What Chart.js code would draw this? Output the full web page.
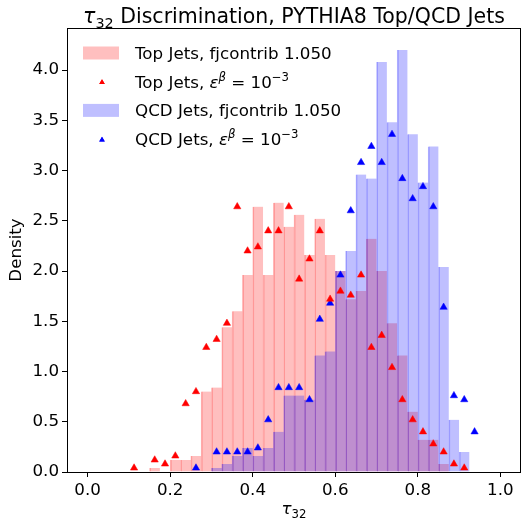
<!DOCTYPE html>
<html>
<head>
<meta charset="utf-8">
<script src="https://cdn.jsdelivr.net/npm/chart.js@4.4.1/dist/chart.umd.min.js"></script>
<style>
  body { margin: 0; background: #fff; }
  canvas { display: block; }
</style>
</head>
<body>
<canvas id="tauChart" width="527" height="518"></canvas>
<script>
// 40 bins of width 0.025 on [0, 1]
let binCenters = [0.0125, 0.0375, 0.0625, 0.0875, 0.1125, 0.1375, 0.1625, 0.1875, 0.2125, 0.2375,
    0.2625, 0.2875, 0.3125, 0.3375, 0.3625, 0.3875, 0.4125, 0.4375, 0.4625, 0.4875,
    0.5125, 0.5375, 0.5625, 0.5875, 0.6125, 0.6375, 0.6625, 0.6875, 0.7125, 0.7375,
    0.7625, 0.7875, 0.8125, 0.8375, 0.8625, 0.8875, 0.9125, 0.9375, 0.9625, 0.9875];

// fjcontrib histograms (density)
let topHist = [0, 0, 0, 0, 0, 0, 0.04, 0, 0.12, 0.12,
    0.16, 0.80, 0.84, 1.44, 1.60, 1.96, 2.64, 1.96, 2.68, 2.44,
    2.56, 2.16, 2.52, 2.16, 2.00, 1.72, 1.80, 2.32, 2.00, 1.48,
    1.16, 0.60, 0.32, 0.32, 0.08, 0, 0, 0, 0, 0];
let qcdHist = [0, 0, 0, 0, 0, 0, 0, 0, 0, 0,
    0, 0, 0.04, 0.08, 0.16, 0.24, 0.16, 0.24, 0.40, 0.76,
    0.76, 0.72, 1.16, 1.20, 2.00, 2.20, 2.96, 2.92, 4.08, 3.48,
    4.20, 3.36, 2.88, 3.24, 2.04, 0.52, 0.20, 0, 0, 0];

// epsilon^beta = 1e-3 points (null = empty bin)
let topTri = [null, null, null, null, 0.04, null, 0.12, 0.08, 0.16, 0.68,
    0.80, 1.24, 1.32, 1.48, 2.64, 2.20, 2.24, 2.40, 2.40, 2.64,
    1.92, 2.12, 2.40, 1.72, 1.80, 1.76, 1.96, 1.24, 1.36, 1.04,
    0.72, 0.52, 0.40, 0.28, 0.20, 0.08, 0.04, null, null, null];
let qcdTri = [null, null, null, null, null, null, null, null, null, null,
    0.04, null, 0.20, 0.20, 0.20, 0.20, 0.24, 0.52, 0.84, 0.84,
    0.84, 0.72, 1.52, 1.68, 1.96, 2.60, 3.08, 3.24, 3.08, 3.36,
    2.92, 2.72, 2.84, 2.64, 1.64, 0.76, 0.72, 0.40, null, null];

let xTicks = [0.0, 0.2, 0.4, 0.6, 0.8, 1.0];
let yTicks = [0.0, 0.5, 1.0, 1.5, 2.0, 2.5, 3.0, 3.5, 4.0];

const FONT = 'DejaVu Sans';
Chart.defaults.font.family = FONT;
Chart.defaults.color = '#000';

function pts(vals) {
    return binCenters.map((x, i) => ({ x: x, y: vals[i] }));
}

// draws a run of text pieces, some italic / sub / superscript, like mathtext
function drawPieces(ctx, pieces, x, y, size, align) {
    const fontOf = p => {
        let s = p.s === 'sup' || p.s === 'sub' ? size * 0.7 : size;
        return (p.i ? 'italic ' : '') + s + 'px "' + FONT + '"';
    };
    let total = 0;
    pieces.forEach(p => { ctx.font = fontOf(p); p.w = ctx.measureText(p.t).width; total += p.w; });
    let cx = align === 'center' ? x - total / 2 : x;
    ctx.textAlign = 'left';
    ctx.textBaseline = 'alphabetic';
    pieces.forEach(p => {
        ctx.font = fontOf(p);
        let dy = p.s === 'sup' ? -size * 0.42 : p.s === 'sub' ? size * 0.22 : 0;
        ctx.fillText(p.t, cx, y + dy);
        cx += p.w;
    });
}

const extras = {
    id: 'extras',
    afterDraw(chart) {
        const ctx = chart.ctx;
        const ca = chart.chartArea;
        ctx.save();
        ctx.fillStyle = '#000';

        // box round the axes
        ctx.strokeStyle = '#000';
        ctx.lineWidth = 1;
        ctx.strokeRect(ca.left + 0.5, ca.top + 0.5, ca.right - ca.left - 1, ca.bottom - ca.top);

        const mid = (ca.left + ca.right) / 2;
        drawPieces(ctx, [
            { t: 'τ', i: true }, { t: '32', s: 'sub' },
            { t: ' Discrimination, PYTHIA8 Top/QCD Jets' }
        ], mid, 23, 20.5, 'center');

        drawPieces(ctx, [{ t: 'τ', i: true }, { t: '32', s: 'sub' }], mid, 514, 16.7, 'center');

        // legend
        const lx = ca.left + 16, tx = ca.left + 68;
        const rows = [
            { kind: 'bar', color: 'rgba(255,0,0,0.25)', name: 'Top Jets' },
            { kind: 'tri', color: 'red', name: 'Top Jets' },
            { kind: 'bar', color: 'rgba(0,0,255,0.25)', name: 'QCD Jets' },
            { kind: 'tri', color: 'blue', name: 'QCD Jets' }
        ];
        rows.forEach((r, k) => {
            let cy = ca.top + 25 + k * 28.7;
            if (r.kind === 'bar') {
                ctx.fillStyle = r.color;
                ctx.fillRect(lx, cy - 6.5, 36, 13);
                ctx.fillStyle = '#000';
                drawPieces(ctx, [{ t: r.name + ', fjcontrib 1.050' }], tx, cy + 6, 16.7, 'left');
            } else {
                ctx.fillStyle = r.color;
                Chart.helpers.drawPoint(ctx, { pointStyle: 'triangle', radius: 3.2, rotation: 0, borderWidth: 0 }, lx + 19, cy + 0.8);
                ctx.fill();
                ctx.fillStyle = '#000';
                drawPieces(ctx, [
                    { t: r.name + ', ' }, { t: 'ε', i: true }, { t: 'β', i: true, s: 'sup' },
                    { t: ' = 10' }, { t: '−3', s: 'sup' }
                ], tx, cy + 6, 16.7, 'left');
            }
        });
        ctx.restore();
    }
};

const ctx = document.getElementById('tauChart').getContext('2d');

new Chart(ctx, {
    type: 'bar',
    data: {
        datasets: [{
            type: 'line',
            label: 'Top Jets, eps^beta = 1e-3',
            data: pts(topTri),
            showLine: false,
            pointStyle: 'triangle',
            pointRadius: 4.2,
            pointBorderWidth: 0.5,
            pointBackgroundColor: 'red',
            pointBorderColor: 'red',
            order: 0
        }, {
            type: 'line',
            label: 'QCD Jets, eps^beta = 1e-3',
            data: pts(qcdTri),
            showLine: false,
            pointStyle: 'triangle',
            pointRadius: 4.2,
            pointBorderWidth: 0.5,
            pointBackgroundColor: 'blue',
            pointBorderColor: 'blue',
            order: 0
        }, {
            label: 'QCD Jets, fjcontrib 1.050',
            data: pts(qcdHist),
            backgroundColor: 'rgba(0,0,255,0.25)',
            borderColor: 'rgba(0,0,255,0.3)',
            borderWidth: { left: 1, right: 0, top: 0, bottom: 0 },
            order: 1
        }, {
            label: 'Top Jets, fjcontrib 1.050',
            data: pts(topHist),
            backgroundColor: 'rgba(255,0,0,0.25)',
            borderColor: 'rgba(255,0,0,0.3)',
            borderWidth: { left: 1, right: 0, top: 0, bottom: 0 },
            order: 2
        }]
    },
    options: {
        responsive: false,
        animation: false,
        grouped: false,
        barPercentage: 1,
        categoryPercentage: 1,
        layout: { padding: { top: 28, right: 6, left: 0, bottom: 0 } },
        plugins: {
            legend: { display: false },
            tooltip: { enabled: false }
        },
        scales: {
            x: {
                type: 'linear',
                min: -0.05,
                max: 1.05,
                offset: false,
                afterBuildTicks: s => { s.ticks = xTicks.map(v => ({ value: v })) },
                afterFit: s => { s.height = 46 },
                grid: { offset: false, drawOnChartArea: false, drawTicks: true, tickLength: 5, color: '#000' },
                border: { display: false },
                ticks: {
                    padding: 4,
                    font: { size: 16.7 },
                    maxRotation: 0,
                    callback: v => v.toFixed(1)
                }
            },
            y: {
                min: 0,
                max: 4.418,
                afterBuildTicks: s => { s.ticks = yTicks.map(v => ({ value: v })) },
                afterFit: s => { s.width = 67 },
                grid: { drawOnChartArea: false, drawTicks: true, tickLength: 5, color: '#000' },
                border: { display: false },
                title: {
                    display: true,
                    text: 'Density',
                    font: { size: 16.7 },
                    padding: { top: 7, bottom: 0 }
                },
                ticks: {
                    padding: 3,
                    font: { size: 16.7 },
                    callback: v => v.toFixed(1)
                }
            }
        }
    },
    plugins: [extras]
});
</script>
</body>
</html>
